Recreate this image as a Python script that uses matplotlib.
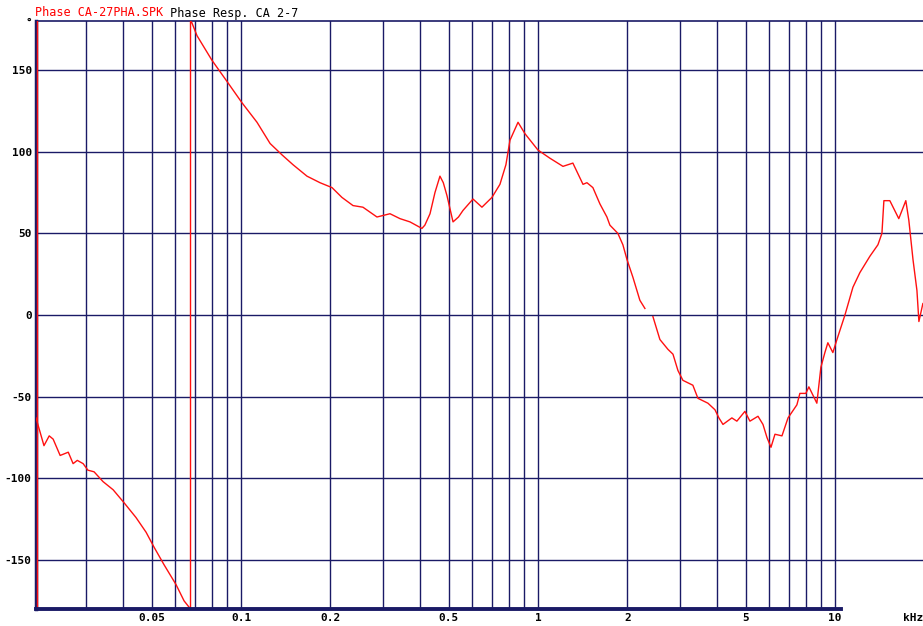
import numpy as np
import matplotlib.pyplot as plt

# phase response (frequency in kHz, phase in degrees)
freq_khz = [0.0204, 0.0217, 0.0226, 0.0233, 0.0246, 0.0262, 0.0272, 0.0281, 0.0294,
            0.0305, 0.0320, 0.0343, 0.0371, 0.0404, 0.0443, 0.0479, 0.0509, 0.0551,
            0.0604, 0.0643, 0.0676, 0.0676, 0.0683, 0.0711, 0.0798, 0.0897, 0.1007,
            0.1132, 0.1253, 0.1375, 0.1497, 0.1668, 0.1845, 0.2025, 0.2187, 0.2383,
            0.2574, 0.2870, 0.3175, 0.3430, 0.3707, 0.4067, 0.4160, 0.4330, 0.4500,
            0.4677, 0.4800, 0.4940, 0.5176, 0.5400, 0.5591, 0.6043, 0.6477, 0.7000,
            0.7447, 0.7800, 0.8050, 0.8568, 0.9042, 1.000, 1.097, 1.214, 1.311,
            1.418, 1.462, 1.531, 1.617, 1.707, 1.747, 1.858, 1.932, 1.994, 2.089,
            2.204, 2.292, 2.36, 2.439, 2.574, 2.739, 2.849, 2.961, 3.077, 3.324,
            3.457, 3.736, 3.945, 4.068, 4.198, 4.498, 4.676, 4.977, 5.174, 5.508,
            5.725, 5.905, 6.091, 6.283, 6.633, 6.952, 7.447, 7.621, 7.984, 8.172,
            8.694, 8.970, 9.252, 9.468, 9.843, 10.16, 10.81, 11.50, 12.14, 13.12,
            13.96, 14.40, 14.62, 15.31, 16.41, 17.33, 17.74, 18.32, 18.89, 19.18,
            19.78]
phase_deg = [-63, -80, -74, -76, -86, -84, -91, -89, -91,
             -95, -96, -102, -107, -115, -124, -133, -142, -153,
             -165, -175, -180, 180, 179, 171, 156, 143, 130,
             118, 105, 98, 92, 85, 81, 78, 72, 67,
             66, 60, 62, 59, 57, 53, 55, 62, 75,
             85, 81, 73, 57, 60, 64, 71, 66, 72,
             80, 92, 107, 118, 111, 101, 96, 91, 93,
             80, 81, 78, 68, 60, 55, 50, 43, 34, 23,
             9, 4, np.nan, -1, -15, -21, -24, -34, -40, -43,
             -51, -54, -58, -63, -67, -63, -65, -59, -65, -62,
             -67, -75, -81, -73, -74, -63, -55, -48, -48, -44,
             -54, -32, -23, -17, -23, -15, 0, 17, 26, 36,
             43, 50, 70, 70, 59, 70, 58, 34, 15, -4,
             7]

x_labels = [0.05, 0.1, 0.2, 0.5, 1, 2, 5, 10]
x_grid = [0.03, 0.04, 0.05, 0.06, 0.07, 0.08, 0.09,
          0.1, 0.2, 0.3, 0.4, 0.5, 0.6, 0.7, 0.8, 0.9,
          1, 2, 3, 4, 5, 6, 7, 8, 9, 10]
y_ticks = [-150, -100, -50, 0, 50, 100, 150]
x_min, x_max = 0.0204, 19.8
y_min, y_max = -180, 180

navy = '#1a1a66'
mono = 'DejaVu Sans Mono'

fig = plt.figure(figsize=(9.23, 6.26), dpi=100)
ax = fig.add_axes([36 / 923, 17 / 626, 1 - 36 / 923, 588 / 626])

ax.set_xscale('log')
ax.set_xlim(x_min, x_max)
ax.set_ylim(y_min, y_max)

# grid
for f in x_grid:
    ax.axvline(f, color=navy, lw=1.0, zorder=1)
for p in y_ticks:
    ax.axhline(p, color=navy, lw=1.0, zorder=1)

# curve
ax.plot(freq_khz, phase_deg, color='#ff1010', lw=1.0, zorder=3)
ax.axvline(x_min * 1.006, color='#ff1010', lw=1.0, zorder=3)

# axes frame
for s in ['right', 'bottom']:
    ax.spines[s].set_visible(False)
ax.spines['left'].set_color(navy)
ax.spines['left'].set_linewidth(2.5)
ax.spines['top'].set_color(navy)
ax.spines['top'].set_linewidth(1.2)
ax.plot([x_min, 10.5], [y_min, y_min], color=navy, lw=2.8, clip_on=False, zorder=4)

ax.set_xticks(x_labels)
ax.set_xticklabels(['0.05', '0.1', '0.2', '0.5', '1', '2', '5', '10'])
ax.set_xticks([], minor=True)
ax.set_yticks(y_ticks + [180])
ax.set_yticklabels([str(v) for v in y_ticks] + ['°'])
ax.tick_params(length=0, labelsize=8)
ax.tick_params(axis='x', pad=3)
ax.tick_params(axis='y', pad=3)
for lab in ax.get_xticklabels() + ax.get_yticklabels():
    lab.set_fontfamily(mono)
    lab.set_fontweight('bold')

fig.text(1.0, 8 / 626, 'kHz', ha='right', va='center', fontsize=8,
         fontfamily=mono, fontweight='bold')

t1 = fig.text(35 / 923, 1 - 13 / 626, 'Phase CA-27PHA.SPK', color='#ff0000',
              fontsize=8.5, fontfamily=mono, va='center', ha='left')
ax.annotate(' Phase Resp. CA 2-7', xy=(1, 0), xycoords=t1, va='bottom', ha='left',
            fontsize=8.5, fontfamily=mono, color='black', annotation_clip=False)

fig.savefig('out.png', dpi=100, facecolor='white')
